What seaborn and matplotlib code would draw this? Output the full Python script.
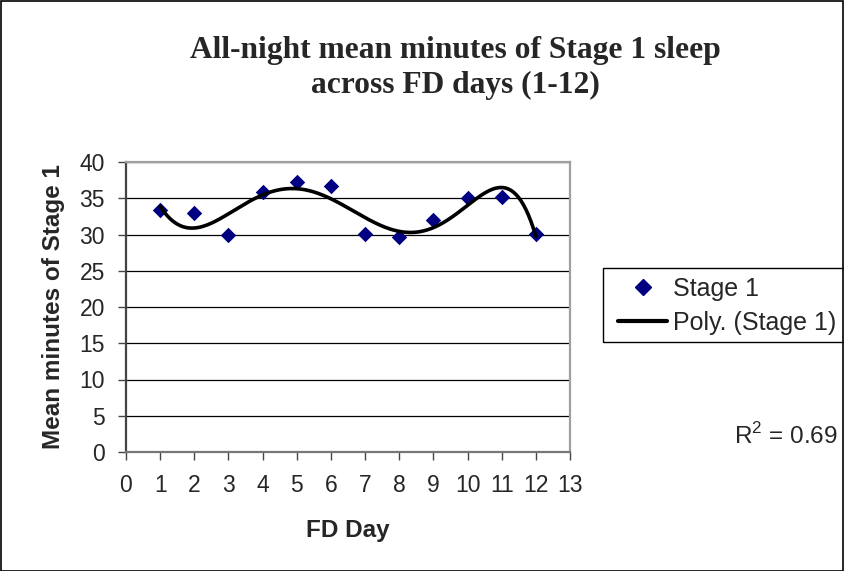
import numpy as np
import pandas as pd
import seaborn as sns
import matplotlib
matplotlib.use("Agg")
import matplotlib.pyplot as plt
from matplotlib.lines import Line2D
from matplotlib.patches import Rectangle

days = [1, 2, 3, 4, 5, 6, 7, 8, 9, 10, 11, 12]
stage1 = [33.4, 33.0, 30.0, 35.9, 37.2, 36.7, 30.1, 29.6, 32.0, 35.1, 35.2, 30.1]
x_ticks = list(range(0, 14))
y_ticks = [0, 5, 10, 15, 20, 25, 30, 35, 40]
title_lines = ["All-night mean minutes of Stage 1 sleep", "across FD days (1-12)"]
legend_labels = ["Stage 1", "Poly. (Stage 1)"]
r2_text = r"$\mathrm{R}^2$ = 0.69"
poly_order = 6

sns.set_theme(style="white")
plt.rcParams['font.family'] = ['Liberation Sans', 'DejaVu Sans']
plt.rcParams['mathtext.fontset'] = 'custom'
plt.rcParams['mathtext.rm'] = 'Liberation Sans'

df = pd.DataFrame({"day": days, "stage1": stage1})

fig = plt.figure(figsize=(8.44, 5.71), dpi=100)
W, H = 844, 571
ax = fig.add_axes([126 / W, 1 - 452 / H, (570 - 126) / W, (452 - 162) / H])

for y in y_ticks[1:]:
    ax.axhline(y, color="black", lw=0.9, zorder=1)

sns.scatterplot(data=df, x="day", y="stage1", ax=ax, marker="D", s=62,
                color="#000080", edgecolor="#000080", linewidth=0, zorder=3)

# polynomial trendline (order 6) fitted to the data, as in the original chart
coef = np.polyfit(df["day"], df["stage1"], poly_order)
xs = np.linspace(min(days), max(days), 300)
trend = pd.DataFrame({"x": xs, "y": np.polyval(coef, xs)})
sns.lineplot(data=trend, x="x", y="y", ax=ax, color="black", lw=2.6, zorder=4)

ax.set_xlim(0, 13)
ax.set_ylim(0, 40)
ax.set_xticks(x_ticks)
ax.set_yticks(y_ticks)
ax.tick_params(axis="both", which="both", direction="out", length=5.8,
               width=1, color="#444444", labelsize=16.5, bottom=True, left=True)
ax.tick_params(axis="x", pad=10)
ax.tick_params(axis="y", pad=9.4)
ax.set_xlabel("FD Day", fontsize=17.5, fontweight="bold", labelpad=16)
ax.set_ylabel("Mean minutes of Stage 1", fontsize=17.5, fontweight="bold", labelpad=10)

ax.spines["left"].set_color("#444444")
ax.spines["left"].set_linewidth(1.6)
ax.spines["bottom"].set_color("#777777")
ax.spines["bottom"].set_linewidth(1.6)
for side in ["right", "top"]:
    ax.spines[side].set_visible(True)
    ax.spines[side].set_color("#a0a0a0")
    ax.spines[side].set_linewidth(1.6)

for line, ybase in zip(title_lines, [58, 93]):
    fig.text(455 / W, 1 - ybase / H, line, ha="center", va="baseline",
             family=["Liberation Serif", "DejaVu Serif"], fontweight="bold",
             fontsize=22.7)

# legend frame and entries
fig.patches.append(Rectangle((603 / W, 1 - 342 / H), 250 / W, 74 / H,
                             transform=fig.transFigure, fill=False,
                             edgecolor="black", lw=1))
handles = [
    Line2D([], [], marker="D", color="#000080", linestyle="None", markersize=8),
    Line2D([], [], color="black", lw=3),
]
fig.legend(handles, legend_labels, loc="upper left",
           bbox_to_anchor=(618 / W, 1 - 277 / H), frameon=False,
           fontsize=18, borderpad=0, handlelength=1.96, handletextpad=0.24,
           labelspacing=0.4, borderaxespad=0)

fig.text(838 / W, 1 - 436 / H, r2_text, ha="right", va="center", fontsize=17.5)

fig.patches.append(Rectangle((0.5 / W, 0.5 / H), 1 - 1.5 / W, 1 - 1.5 / H,
                             transform=fig.transFigure, fill=False,
                             edgecolor="black", lw=1.2))

fig.savefig("out.png", dpi=100)
